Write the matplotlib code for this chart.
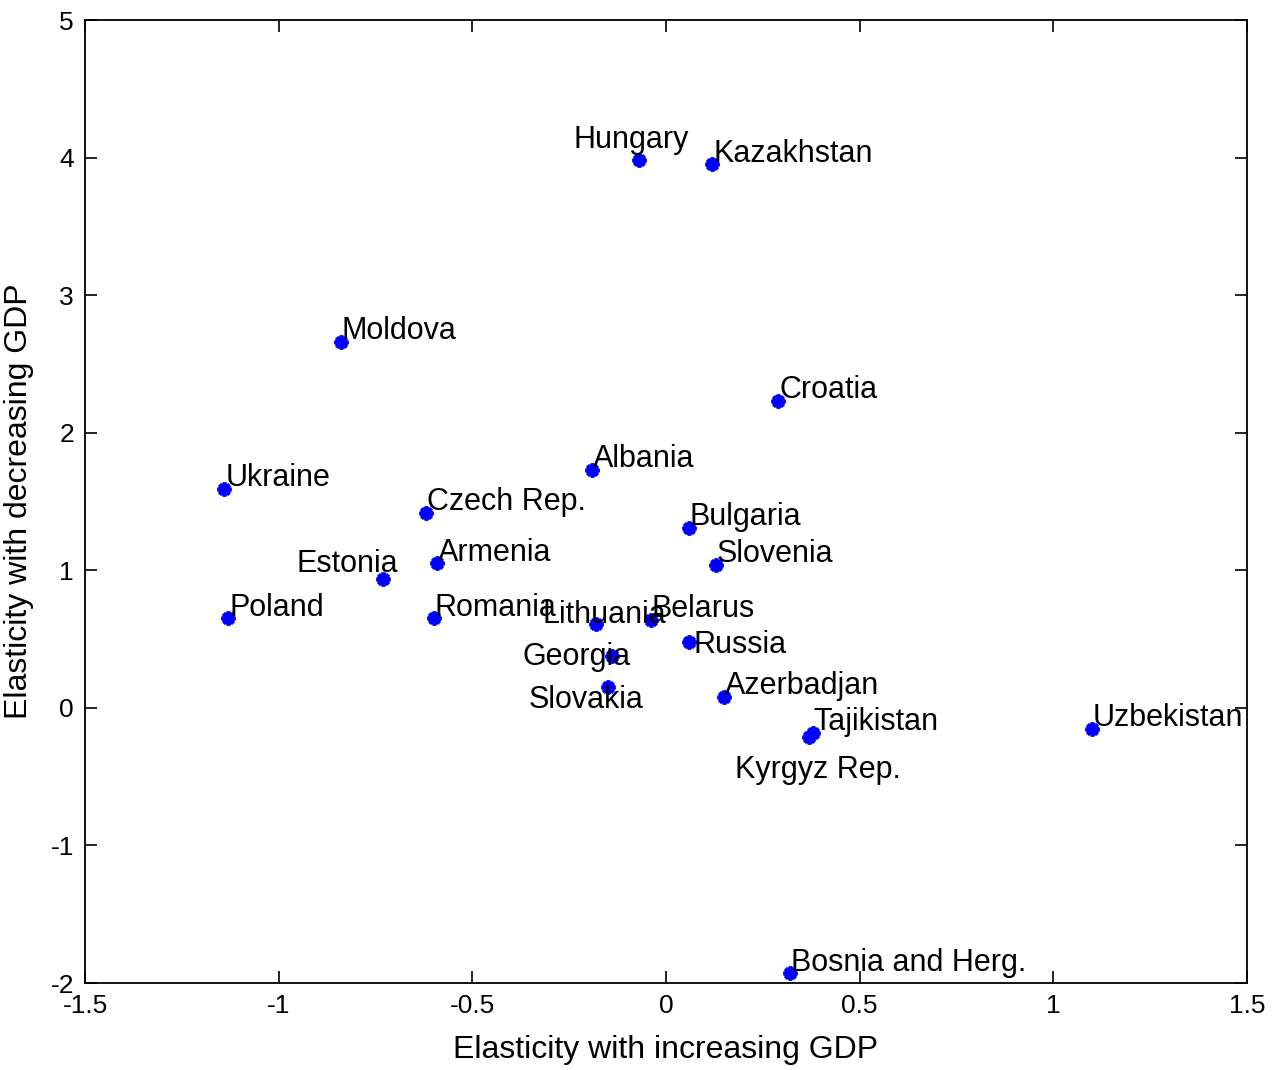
import matplotlib
matplotlib.use('Agg')
import matplotlib.pyplot as plt

plt.rcParams['font.family'] = ['Liberation Sans', 'DejaVu Sans']

countries = ['Hungary', 'Kazakhstan', 'Moldova', 'Croatia', 'Albania', 'Ukraine',
             'Czech Rep.', 'Bulgaria', 'Slovenia', 'Armenia', 'Estonia', 'Poland',
             'Romania', 'Lithuania', 'Belarus', 'Russia', 'Georgia', 'Slovakia',
             'Azerbadjan', 'Tajikistan', 'Kyrgyz Rep.', 'Uzbekistan', 'Bosnia and Herg.']
elast_up = [-0.07, 0.12, -0.84, 0.29, -0.19, -1.14,
            -0.62, 0.06, 0.13, -0.59, -0.73, -1.13,
            -0.60, -0.18, -0.04, 0.06, -0.14, -0.15,
            0.15, 0.38, 0.37, 1.10, 0.32]
elast_down = [3.98, 3.95, 2.66, 2.23, 1.73, 1.59,
              1.42, 1.31, 1.04, 1.05, 0.94, 0.65,
              0.65, 0.61, 0.64, 0.48, 0.38, 0.15,
              0.08, -0.18, -0.21, -0.15, -1.93]

# labels the author moved by hand (left edge, baseline in data units)
moved = {
    'Hungary': (-0.24, 4.07),
    'Estonia': (-0.955, 0.99),
    'Georgia': (-0.37, 0.31),
    'Slovakia': (-0.356, 0.0),
    'Kyrgyz Rep.': (0.178, -0.51),
    'Lithuania': (-0.32, 0.62),
    'Russia': (0.07, 0.40),
}

fig = plt.figure(figsize=(12.75, 10.7), dpi=100)
ax = fig.add_axes([0.0667, 0.0813, 0.9113, 0.9])

ax.plot(elast_up, elast_down, linestyle='none', marker=(8, 2, 0), color='blue',
        markersize=10, markeredgewidth=2.8)

for name, x, y in zip(countries, elast_up, elast_down):
    if name in moved:
        tx, ty = moved[name]
        ax.text(tx, ty, name, fontsize=22, ha='left', va='baseline', color='black',
                clip_on=True)
    else:
        ax.annotate(name, (x, y), xytext=(0.5, 2), textcoords='offset points',
                    fontsize=22, ha='left', va='baseline', color='black', clip_on=True)

ax.set_xlim(-1.5, 1.5)
ax.set_ylim(-2, 5)
ax.set_xticks([-1.5, -1, -0.5, 0, 0.5, 1, 1.5])
ax.set_xticklabels(['-1.5', '-1', '-0.5', '0', '0.5', '1', '1.5'])
ax.set_yticks(range(-2, 6))
ax.set_yticklabels([str(v) for v in range(-2, 6)])
ax.tick_params(direction='in', length=8.5, width=1.2, top=True, right=True,
               labelsize=19, pad=8)
for sp in ax.spines.values():
    sp.set_linewidth(1.3)

ax.set_xlabel('Elasticity with increasing GDP', fontsize=23, labelpad=12)
ax.set_ylabel('Elasticity with decreasing GDP', fontsize=23)
ax.yaxis.set_label_coords(-0.044, 0.5)

fig.savefig('out.png', dpi=100)
